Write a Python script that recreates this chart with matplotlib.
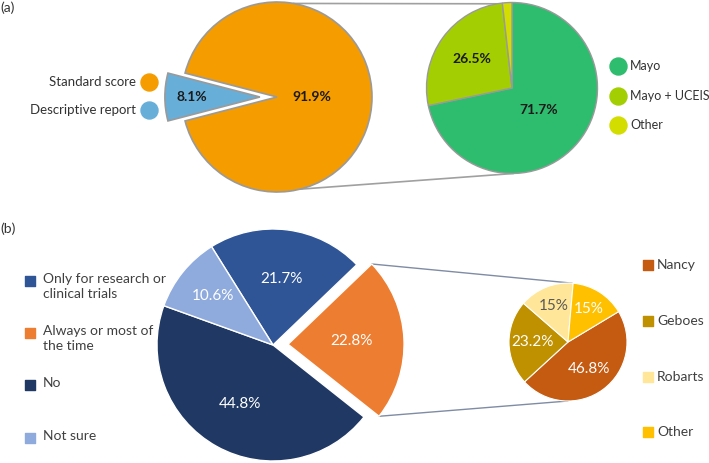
import numpy as np
import matplotlib
matplotlib.use("Agg")
import matplotlib.pyplot as plt
from matplotlib.patches import ConnectionPatch

# (a) how endoscopic activity is reported, and which score
a_labels = ["Standard score", "Descriptive report"]
a_values = [91.9, 8.1]
a_colors = ["#F59C00", "#67AFD9"]

a_sub_labels = ["Mayo", "Mayo + UCEIS", "Other"]
a_sub_values = [71.7, 26.5, 1.8]
a_sub_colors = ["#2EBD6E", "#A3CF02", "#D4DD00"]

# (b) use of histological scoring, and which index
b_labels = ["Only for research or\nclinical trials", "Always or most of\nthe time", "No", "Not sure"]
b_values = [21.7, 22.8, 44.8, 10.6]
b_colors = ["#2F5597", "#ED7D31", "#203864", "#8FAADC"]

b_sub_labels = ["Nancy", "Geboes", "Robarts", "Other"]
b_sub_values = [46.8, 23.2, 15.0, 15.0]
b_sub_colors = ["#C55A11", "#BF9000", "#FFE699", "#FFC000"]
b_sub_textcol = ["white", "white", "#595959", "white"]

W, H = 709, 463
L = 1.3
fig = plt.figure(figsize=(W / 100, H / 100), dpi=100)

# overlay in pixel coordinates for legends and panel tags (kept on top)
ov = fig.add_axes([0, 0, 1, 1])
ov.set_xlim(0, W)
ov.set_ylim(H, 0)
ov.axis('off')
ov.set_zorder(10)
ov.patch.set_visible(False)


def pie_axes(cx, cy, r):
    ax = fig.add_axes([(cx - L * r) / W, 1 - (cy + L * r) / H, 2 * L * r / W, 2 * L * r / H])
    ax.patch.set_visible(False)
    return ax


def pct(p):
    return "" if p < 5 else f"{round(p, 1):g}%"


def place(autotexts, wedges, dists):
    for t, w, d in zip(autotexts, wedges, dists):
        ang = np.deg2rad((w.theta1 + w.theta2) / 2)
        t.set_position((w.center[0] + d * np.cos(ang), w.center[1] + d * np.sin(ang)))


def finish(ax):
    ax.set_xlim(-L, L)
    ax.set_ylim(-L, L)
    ax.axis('off')


def join(axA, ptA, axB, ptB, col, lw):
    con = ConnectionPatch(xyA=ptA, coordsA=axA.transData, xyB=ptB, coordsB=axB.transData,
                          color=col, lw=lw, zorder=0)
    fig.add_artist(con)


def polar(w, deg):
    return (w.center[0] + np.cos(np.deg2rad(deg)), w.center[1] + np.sin(np.deg2rad(deg)))


font_a = "Lato"
font_b = "Lato"

# ---- panel (a) ----
ax1 = pie_axes(277, 97, 95)
start = 180 + a_values[1] * 3.6 / 2
w1, _, at1 = ax1.pie(a_values, colors=a_colors, startangle=start, explode=[0, 0.18],
                     autopct=pct, wedgeprops=dict(edgecolor="#9A9A9A", linewidth=1.2),
                     textprops=dict(fontsize=10, fontweight='bold', color='#1A1A1A', family=font_a))
place(at1, w1, [0.37, 0.72])
finish(ax1)

ax2 = pie_axes(512, 88, 85.5)
w2, _, at2 = ax2.pie(a_sub_values, colors=a_sub_colors, startangle=90, counterclock=False,
                     autopct=pct, wedgeprops=dict(edgecolor="#9A9A9A", linewidth=1.0),
                     textprops=dict(fontsize=10, fontweight='bold', color='#1A1A1A', family=font_a))
place(at2, w2, [0.4, 0.58, 0.6])
finish(ax2)

join(ax1, polar(w1[0], 80), ax2, polar(w2[0], 100), "#A0A0A0", 1.2)
join(ax1, polar(w1[0], -76), ax2, polar(w2[0], -89), "#A0A0A0", 1.2)

for i, (lab, col) in enumerate(zip(a_labels, a_colors)):
    y = 82 + 28 * i
    ov.scatter(149, y, s=150, color=col, zorder=3)
    ov.text(136, y, lab, ha='right', va='center', fontsize=9.5, color='#333333', family=font_a)

for i, (lab, col) in enumerate(zip(a_sub_labels, a_sub_colors)):
    y = 66 + 29.5 * i
    ov.scatter(618, y, s=150, color=col, zorder=3)
    ov.text(630, y, lab, ha='left', va='center', fontsize=9, color='#333333', family=font_a)

ov.text(0, 8, "(a)", ha='left', va='center', fontsize=10, color='#333333', family=font_a)

# ---- panel (b) ----
ax3 = pie_axes(273, 345, 116)
w3, _, at3 = ax3.pie(b_values, colors=b_colors, startangle=122, counterclock=False,
                     explode=[0, 0.13, 0, 0], autopct=pct,
                     wedgeprops=dict(edgecolor="white", linewidth=1.0),
                     textprops=dict(fontsize=11, color='white', family=font_b))
place(at3, w3, [0.57, 0.55, 0.58, 0.67])
finish(ax3)

ax4 = pie_axes(568, 342, 59)
w4, _, at4 = ax4.pie(b_sub_values, colors=b_sub_colors, startangle=31, counterclock=False,
                     autopct=pct, wedgeprops=dict(edgecolor="white", linewidth=0.8),
                     textprops=dict(fontsize=11, family=font_b))
for t, c in zip(at4, b_sub_textcol):
    t.set_color(c)
place(at4, w4, [0.58, 0.6, 0.65, 0.65])
finish(ax4)

orange = w3[1]
join(ax3, polar(orange, orange.theta2), ax4, polar(w4[0], 86), "#7F8CA3", 1.0)
join(ax3, polar(orange, orange.theta1), ax4, polar(w4[0], -90), "#7F8CA3", 1.0)

for lab, col, y in zip(b_labels, b_colors, [281, 333, 385, 438]):
    ov.scatter(30, y, s=55, marker='s', color=col, zorder=3)
    ov.text(43, y - 8, lab, ha='left', va='top', fontsize=10, color='#404040',
            family=font_b, linespacing=1.35)

for lab, col, y in zip(b_sub_labels, b_sub_colors, [265, 321, 377, 432]):
    ov.scatter(648, y, s=45, marker='s', color=col, zorder=3)
    ov.text(657, y, lab, ha='left', va='center', fontsize=10, color='#404040', family=font_b)

ov.text(0, 229, "(b)", ha='left', va='center', fontsize=10, color='#333333', family=font_a)

fig.savefig("out.png", dpi=100)
